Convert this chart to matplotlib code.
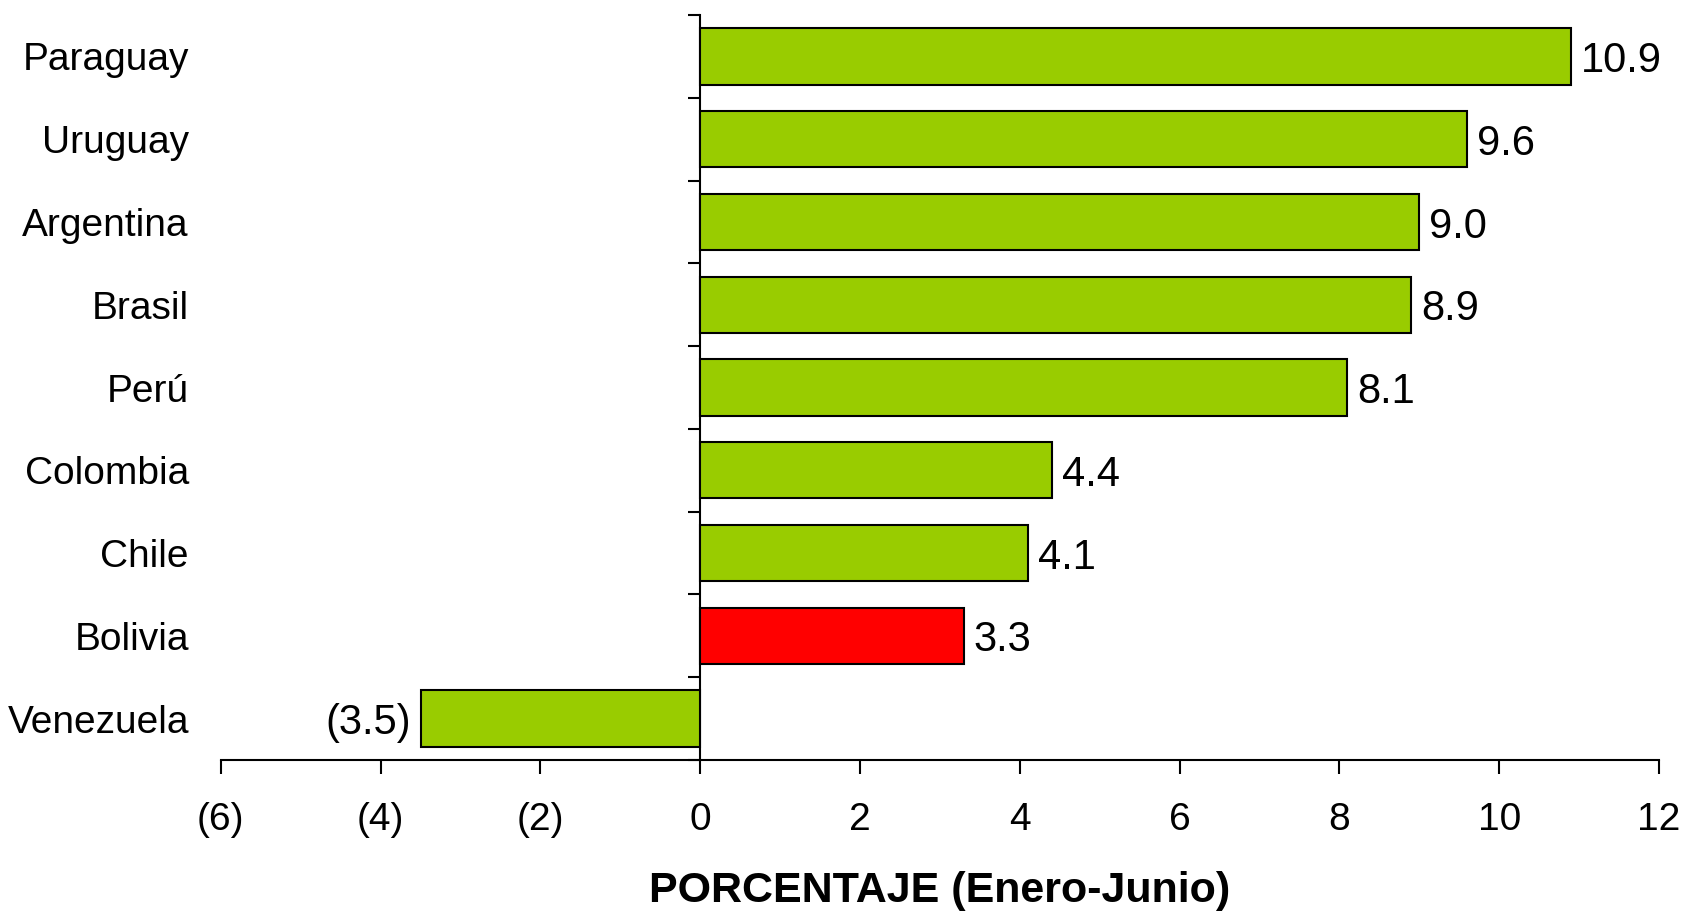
import numpy as np
import matplotlib.pyplot as plt

plt.rcParams['font.family'] = ['Liberation Sans', 'DejaVu Sans']

# data
paises = ['Paraguay', 'Uruguay', 'Argentina', 'Brasil', 'Perú',
          'Colombia', 'Chile', 'Bolivia', 'Venezuela']
valores = [10.9, 9.6, 9.0, 8.9, 8.1, 4.4, 4.1, 3.3, -3.5]
resaltado = 'Bolivia'
xticks = [-6, -4, -2, 0, 2, 4, 6, 8, 10, 12]


def fmt(v, dec=1):
    s = f'{abs(v):.{dec}f}'
    return f'({s})' if v < 0 else s


fig = plt.figure(figsize=(16.86, 9.14), dpi=100)
ax = fig.add_axes([0.131, 0.1685, 0.853, 0.815])

y = np.arange(len(paises))
colores = ['#ff0000' if p == resaltado else '#99cc00' for p in paises]
bars = ax.barh(y, valores, height=0.68, color=colores,
               edgecolor='black', linewidth=1.5, zorder=3)

ax.set_xlim(xticks[0], xticks[-1])
ax.set_ylim(len(paises) - 0.5, -0.5)

# value labels
for b, v in zip(bars, valores):
    off = 7 if v >= 0 else -7
    ax.annotate(fmt(v), (v, b.get_y() + b.get_height() / 2),
                xytext=(off, 0), textcoords='offset points',
                ha='left' if v >= 0 else 'right', va='center_baseline',
                fontsize=30)

# x axis
ax.set_xticks(xticks)
ax.set_xticklabels([fmt(t, 0) for t in xticks], fontsize=28)
ax.tick_params(axis='x', direction='out', length=10, width=1.5, pad=20)
ax.set_xlabel('PORCENTAJE (Enero-Junio)', fontsize=31, fontweight='bold',
              labelpad=24)

# y labels at the left of the axes
ax.set_yticks(y)
ax.set_yticklabels(paises, fontsize=28)
ax.tick_params(axis='y', length=0, pad=23)

for s in ['top', 'right', 'left']:
    ax.spines[s].set_visible(False)
ax.spines['bottom'].set_linewidth(1.5)

# vertical axis at zero with ticks between categories
loc0 = (0 - xticks[0]) / (xticks[-1] - xticks[0])
sec = ax.secondary_yaxis(loc0)
sec.set_yticks(np.arange(len(paises) + 1) - 0.5)
sec.set_yticklabels([])
sec.tick_params(direction='out', length=9, width=1.5)
sec.spines['left'].set_linewidth(1.5)

fig.savefig('out.png', dpi=100, facecolor='white')
